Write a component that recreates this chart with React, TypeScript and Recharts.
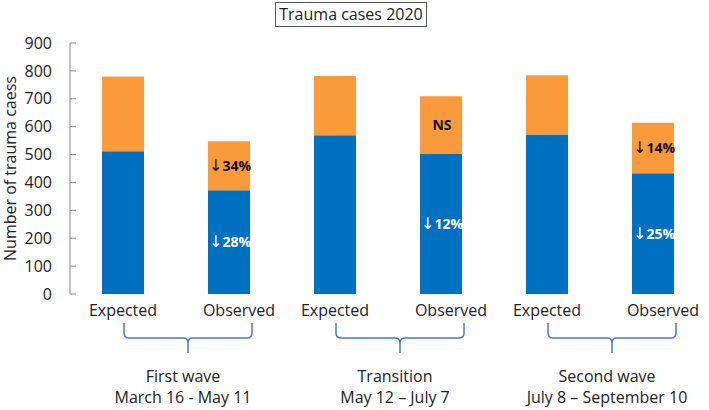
import { Bar, BarChart, LabelList, XAxis, YAxis } from "recharts";

const categories = ["Expected", "Observed", "Expected", "Observed", "Expected", "Observed"];
const lowerValues = [512, 372, 569, 502, 572, 433];
const upperValues = [268, 176, 213, 207, 212, 181];
const lowerNotes = ["", "↓28%", "", "↓12%", "", "↓25%"];
const upperNotes = ["", "↓34%", "", "NS", "", "↓14%"];
const groupNames = ["First wave", "Transition", "Second wave"];
const groupDates = ["March 16 - May 11", "May 12 – July 7", "July 8 – September 10"];
const yTicks = [0, 100, 200, 300, 400, 500, 600, 700, 800, 900];

const WIDTH = 709;
const HEIGHT = 410;
const Y_AXIS_WIDTH = 70;
const MARGIN = { top: 43, right: 3, bottom: 0, left: 0 };
const BAND = (WIDTH - Y_AXIS_WIDTH - MARGIN.left - MARGIN.right) / categories.length;

const BLUE = "#0070C0";
const ORANGE = "#FB9A3A";
const TEXT = "#222";
const AXIS = "#8a8a8a";
const BRACE = "#4a78c8";

const data = categories.map((label, i) => ({
  label,
  lower: lowerValues[i],
  upper: upperValues[i],
  lowerNote: lowerNotes[i],
  upperNote: upperNotes[i],
}));

function YTick({ y, payload }: any) {
  const axisX = MARGIN.left + Y_AXIS_WIDTH;
  return (
    <g>
      <line x1={axisX} x2={axisX + 6} y1={y} y2={y} stroke={AXIS} strokeWidth={1} />
      <text x={axisX - 18} y={y} dy={5.7} textAnchor="end" fill={TEXT} fontSize={16}>
        {payload.value}
      </text>
    </g>
  );
}

function XTick({ x, y, payload, index }: any) {
  const isObserved = index % 2 === 1;
  const labelX = x + (isObserved ? 10 : 0);
  if (!isObserved) {
    return (
      <text x={labelX} y={y + 22} textAnchor="middle" fill={TEXT} fontSize={16}>
        {payload.value}
      </text>
    );
  }
  const group = (index - 1) / 2;
  const braceCenter = x - BAND / 2 + 12;
  const left = braceCenter - 64;
  const right = braceCenter + 64;
  const top = y + 29;
  const mid = y + 44;
  const tip = y + 59;
  const brace = [
    `M${left},${top}L${left},${mid - 5}Q${left},${mid} ${left + 5},${mid}`,
    `L${braceCenter - 5},${mid}Q${braceCenter},${mid} ${braceCenter},${mid + 5}L${braceCenter},${tip}`,
    `M${braceCenter},${mid + 5}Q${braceCenter},${mid} ${braceCenter + 5},${mid}`,
    `L${right - 5},${mid}Q${right},${mid} ${right},${mid - 5}L${right},${top}`,
  ].join("");
  const textX = x - BAND / 2 + 7;
  return (
    <g>
      <text x={labelX} y={y + 22} textAnchor="middle" fill={TEXT} fontSize={16}>
        {payload.value}
      </text>
      <path d={brace} fill="none" stroke={BRACE} strokeWidth={1.5} />
      <text x={textX} y={y + 88} textAnchor="middle" fill={TEXT} fontSize={16}>
        {groupNames[group]}
      </text>
      <text x={textX} y={y + 109} textAnchor="middle" fill={TEXT} fontSize={16}>
        {groupDates[group]}
      </text>
    </g>
  );
}

function makeNote(color: string) {
  return function Note({ x, y, width, height, value }: any) {
    if (!value) return null;
    const text = String(value);
    const hasArrow = text.startsWith("↓");
    return (
      <text
        x={Number(x) + Number(width) / 2 + 1}
        y={Number(y) + Number(height) / 2}
        dy={5}
        textAnchor="middle"
        fill={color}
        fontSize={14}
        fontWeight="bold"
      >
        {hasArrow ? (
          <>
            <tspan fontFamily="'DejaVu Sans', sans-serif" fontWeight="normal" fontSize={16}>
              ↓
            </tspan>
            <tspan>{text.slice(1)}</tspan>
          </>
        ) : (
          text
        )}
      </text>
    );
  };
}

const WhiteNote = makeNote("#fff");
const BlackNote = makeNote("#111");

export default function App() {
  return (
    <div
      style={{
        position: "fixed",
        left: 0,
        top: 0,
        width: WIDTH,
        height: HEIGHT,
        background: "#fff",
        fontFamily: "'Open Sans', sans-serif",
      }}
    >
      <div
        style={{
          position: "absolute",
          left: 275,
          top: 2,
          width: 150,
          height: 23,
          border: "1px solid #555",
          textAlign: "center",
          lineHeight: "23px",
          fontSize: 16,
          color: TEXT,
        }}
      >
        Trauma cases 2020
      </div>
      <BarChart width={WIDTH} height={HEIGHT} data={data} margin={MARGIN}>
        <XAxis
          dataKey="label"
          axisLine={false}
          tickLine={false}
          tickSize={0}
          tickMargin={0}
          height={116}
          interval={0}
          tick={<XTick />}
        />
        <YAxis
          domain={[0, 900]}
          ticks={yTicks}
          width={Y_AXIS_WIDTH}
          axisLine={{ stroke: AXIS }}
          tickLine={false}
          tickSize={0}
          tickMargin={0}
          tick={<YTick />}
          label={{
            value: "Number of trauma caess",
            angle: -90,
            position: "insideLeft",
            offset: 10,
            fill: TEXT,
            fontSize: 16,
            style: { textAnchor: "middle" },
          }}
        />
        <Bar dataKey="lower" stackId="a" fill={BLUE} barSize={42} isAnimationActive={false}>
          <LabelList dataKey="lowerNote" content={<WhiteNote />} />
        </Bar>
        <Bar dataKey="upper" stackId="a" fill={ORANGE} barSize={42} isAnimationActive={false}>
          <LabelList dataKey="upperNote" content={<BlackNote />} />
        </Bar>
      </BarChart>
    </div>
  );
}
